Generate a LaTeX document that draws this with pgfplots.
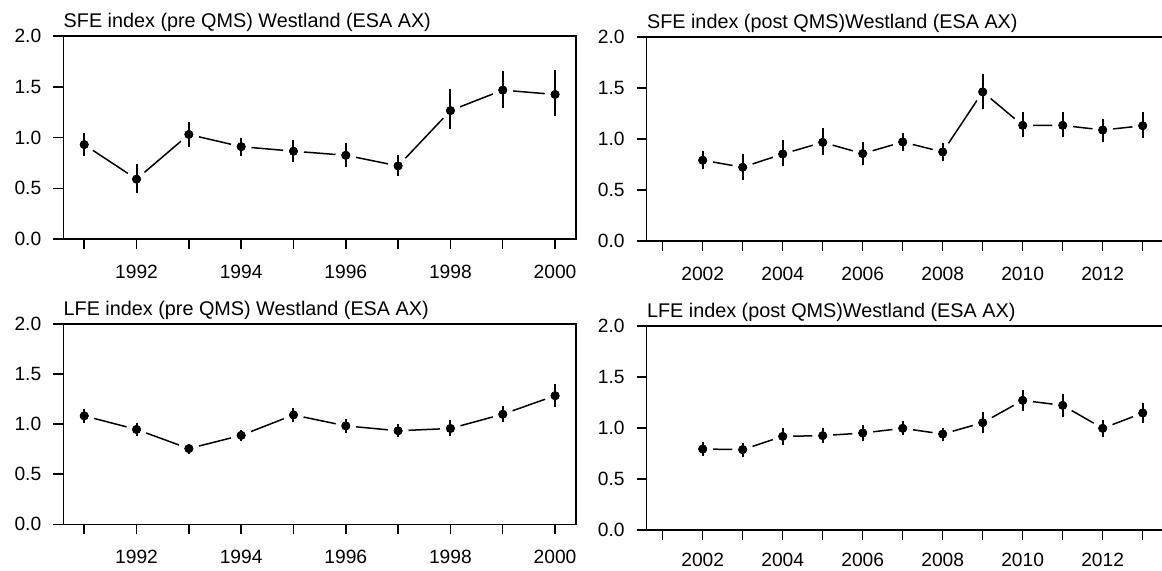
\documentclass[border=0pt]{standalone}
\usepackage{fontspec}
\setmainfont{Liberation Sans}
\usepackage{pgfplots}
\usepackage{pgfplotstable}
\pgfplotsset{compat=1.18}

\pgfplotstableread{
x y lo hi
1991 0.930 0.820 1.040
1992 0.590 0.450 0.740
1993 1.030 0.910 1.155
1994 0.910 0.820 1.000
1995 0.865 0.760 0.975
1996 0.825 0.710 0.945
1997 0.720 0.620 0.830
1998 1.265 1.085 1.475
1999 1.467 1.290 1.660
2000 1.424 1.215 1.668
}\sfepre

\pgfplotstableread{
x y lo hi
2002 0.792 0.704 0.886
2003 0.723 0.600 0.853
2004 0.853 0.733 0.993
2005 0.967 0.840 1.111
2006 0.857 0.749 0.967
2007 0.971 0.879 1.062
2008 0.873 0.782 0.964
2009 1.462 1.293 1.642
2010 1.134 1.016 1.261
2011 1.134 1.016 1.261
2012 1.088 0.971 1.199
2013 1.130 1.010 1.261
}\sfepost

\pgfplotstableread{
x y lo hi
1991 1.083 1.007 1.155
1992 0.947 0.878 1.010
1993 0.756 0.706 0.802
1994 0.888 0.828 0.937
1995 1.092 1.023 1.165
1996 0.983 0.911 1.050
1997 0.934 0.871 0.997
1998 0.957 0.878 1.040
1999 1.099 1.020 1.178
2000 1.284 1.168 1.399
}\lfepre

\pgfplotstableread{
x y lo hi
2002 0.794 0.725 0.866
2003 0.788 0.716 0.850
2004 0.918 0.830 1.003
2005 0.925 0.856 0.997
2006 0.951 0.869 1.033
2007 0.997 0.931 1.069
2008 0.941 0.873 1.003
2009 1.052 0.951 1.154
2010 1.271 1.167 1.376
2011 1.222 1.111 1.330
2012 0.997 0.912 1.082
2013 1.147 1.049 1.248
}\lfepost

\pgfplotsset{
  panel/.style={
    scale only axis,
    ymin=0, ymax=2,
    ytick={0,0.5,1,1.5,2},
    yticklabels={0.0,0.5,1.0,1.5,2.0},
    tick align=outside,
    xtick pos=left, ytick pos=left,
    major tick length=5pt,
    axis line style={line width=0.75pt},
    every tick/.style={black, line width=0.75pt},
    tick label style={font=\fontsize{9.6}{11}\selectfont},
    /pgf/number format/assume math mode=true,
    yticklabel style={xshift=-2.5pt},
    every axis title/.style={at={(0,1)}, anchor=base west, yshift=4.5pt, inner sep=0pt, font=\fontsize{9.9}{11}\selectfont},
    clip=false,
    clip marker paths=true,
  },
  pre/.style={panel, xmin=1990.6, xmax=2000.4, width=256.35pt,
    xtick={1991,...,2000},
    xticklabels={,1992,,1994,,1996,,1998,,2000}},
  post/.style={panel, xmin=2000.6, xmax=2013.6, width=260pt,
    xtick={2001,...,2013},
    xticklabels={,2002,,2004,,2006,,2008,,2010,,2012,}},
}

\newcommand{\series}[1]{%
  \addplot[black, line width=0.75pt] table[x=x,y=y]{#1};
  \addplot[white, only marks, mark=*, mark size=5pt] table[x=x,y=y]{#1};
  \addplot[black, only marks, mark=none,
    error bars/.cd, y dir=both, y explicit, error mark=none,
    error bar style={line width=1pt, black}]
    table[x=x, y=y, y error plus expr=\thisrow{hi}-\thisrow{y}, y error minus expr=\thisrow{y}-\thisrow{lo}]{#1};
  \addplot[black, only marks, mark=*, mark size=2pt] table[x=x,y=y]{#1};
}

\begin{document}
\begin{tikzpicture}
\begin{axis}[pre, at={(31.65pt,165.5pt)}, anchor=south west, height=101.5pt,
  xticklabel style={yshift=-4.5pt},
  title={SFE index (pre QMS) Westland (ESA AX)}]
\series{\sfepre}
\end{axis}
\begin{axis}[post, at={(323.35pt,164.5pt)}, anchor=south west, height=102pt,
  xticklabel style={yshift=-4.5pt},
  title={SFE index (post QMS)Westland (ESA AX)}]
\series{\sfepost}
\end{axis}
\begin{axis}[pre, at={(31.65pt,22.85pt)}, anchor=south west, height=100.15pt,
  xticklabel style={yshift=-4.5pt},
  title={LFE index (pre QMS) Westland (ESA AX)}]
\series{\lfepre}
\end{axis}
\begin{axis}[post, at={(323.35pt,20pt)}, anchor=south west, height=102pt,
  xticklabel style={yshift=-2.8pt},
  title={LFE index (post QMS)Westland (ESA AX)}]
\series{\lfepost}
\end{axis}
\pgfresetboundingbox
\path[use as bounding box] (0,0) rectangle (581pt,285pt);
\end{tikzpicture}
\end{document}
